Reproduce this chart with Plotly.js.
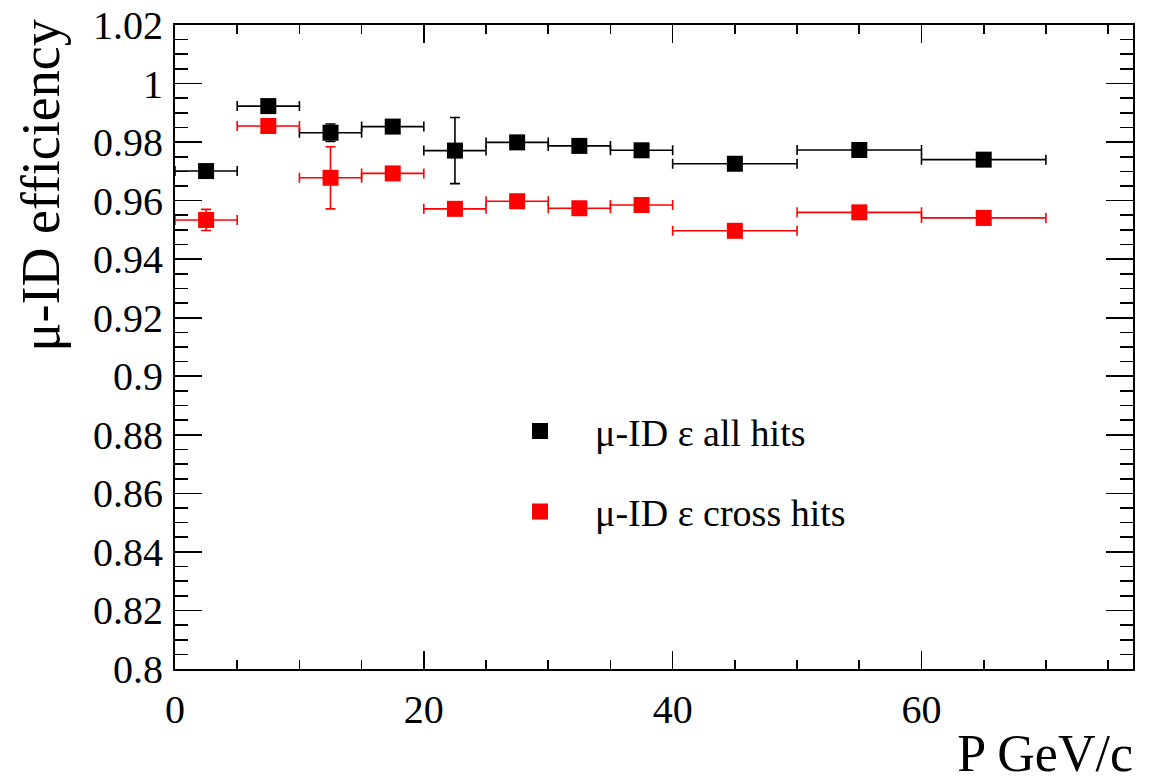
<!DOCTYPE html>
<html>
<head>
<meta charset="utf-8">
<script src="https://cdn.plot.ly/plotly-3.0.1.min.js"></script>
<style>
html,body{margin:0;padding:0;background:#fff;font-family:'Liberation Serif',serif;}
#wrap{position:relative;width:1162px;height:784px;}
#chart{position:absolute;left:0;top:0;width:1162px;height:784px;}
#xtitle{position:absolute;right:29px;top:728px;font-family:'Liberation Serif',serif;font-size:52px;line-height:52px;height:52px;white-space:nowrap;color:#000;z-index:5;}
</style>
</head>
<body>
<div id="wrap">
<div id="xtitle">P GeV/c</div>
<div id="chart"></div>
</div>
<script>
// Bin centres and half-widths (GeV/c)
const pCenters = [2.5, 7.5, 12.5, 17.5, 22.5, 27.5, 32.5, 37.5, 45, 55, 65];
const pHalfWidths = [2.5, 2.5, 2.5, 2.5, 2.5, 2.5, 2.5, 2.5, 5, 5, 5];

// mu-ID efficiency, all hits
const effAll = [0.9701, 0.9923, 0.9832, 0.9853, 0.9771, 0.9799, 0.9787, 0.9772, 0.9726, 0.9773, 0.9740];
const errAll = [0.002, 0.002, 0.003, 0.002, 0.0113, 0.002, 0.002, 0.002, 0.001, 0.001, 0.001];

// mu-ID efficiency, cross hits
const effCross = [0.9534, 0.9855, 0.9678, 0.9693, 0.9572, 0.9598, 0.9574, 0.9585, 0.9497, 0.9560, 0.9541];
const errCross = [0.0036, 0.002, 0.0106, 0.002, 0.002, 0.002, 0.002, 0.002, 0.001, 0.001, 0.001];

const seriesNames = ['\u03bc-ID \u03b5 all hits', '\u03bc-ID \u03b5 cross hits'];
const yTitle = '\u03bc-ID efficiency';

function mkTrace(y, ey, name, color, group) {
  return {
    type: 'scatter', mode: 'markers', x: pCenters, y: y, name: name,
    legendgroup: group,
    marker: {symbol: 'square', size: 16, color: color},
    error_x: {type: 'data', array: pHalfWidths, visible: true, color: color, thickness: 1.6, width: 5},
    error_y: {type: 'data', array: ey, visible: true, color: color, thickness: 1.6, width: 5}
  };
}

const data = [
  mkTrace(effAll, errAll, seriesNames[0], '#000000', 'g1'),
  mkTrace(effCross, errCross, seriesNames[1], '#ff0000', 'g2')
];

const layout = {
  width: 1162, height: 784,
  margin: {l: 175, r: 29, t: 25, b: 115},
  paper_bgcolor: 'rgba(0,0,0,0)', plot_bgcolor: '#ffffff',
  font: {family: 'Liberation Serif', size: 40, color: '#000'},
  showlegend: true,
  legend: {
    x: 0.3236, y: 0.418, xanchor: 'left', yanchor: 'top',
    bgcolor: 'rgba(0,0,0,0)', borderwidth: 0,
    font: {size: 38},
    tracegroupgap: 28, itemwidth: 100
  },
  xaxis: {
    range: [0, 77], dtick: 20, tick0: 0,
    ticks: 'inside', ticklen: 18, tickwidth: 1.6, tickcolor: '#000',
    minor: {dtick: 5, ticks: 'inside', ticklen: 9, tickwidth: 1.6, tickcolor: '#000', showgrid: false},
    showline: true, linewidth: 2, linecolor: '#000', mirror: 'ticks',
    showgrid: false, zeroline: false,
    ticklabelstandoff: 4
  },
  yaxis: {
    range: [0.8, 1.02], dtick: 0.02, tick0: 0.8,
    ticks: 'inside', ticklen: 27, tickwidth: 1.6, tickcolor: '#000',
    minor: {dtick: 0.005, ticks: 'inside', ticklen: 13, tickwidth: 1.6, tickcolor: '#000', showgrid: false},
    showline: true, linewidth: 2, linecolor: '#000', mirror: 'ticks',
    showgrid: false, zeroline: false,
    ticklabelstandoff: 2
  },
  annotations: [
    {text: yTitle, xref: 'paper', yref: 'paper', x: -0.173, y: 1.012, xanchor: 'left', yanchor: 'top',
     textangle: -90, showarrow: false, font: {size: 54}}
  ]
};

Plotly.newPlot('chart', data, layout, {staticPlot: true});
</script>
</body>
</html>
